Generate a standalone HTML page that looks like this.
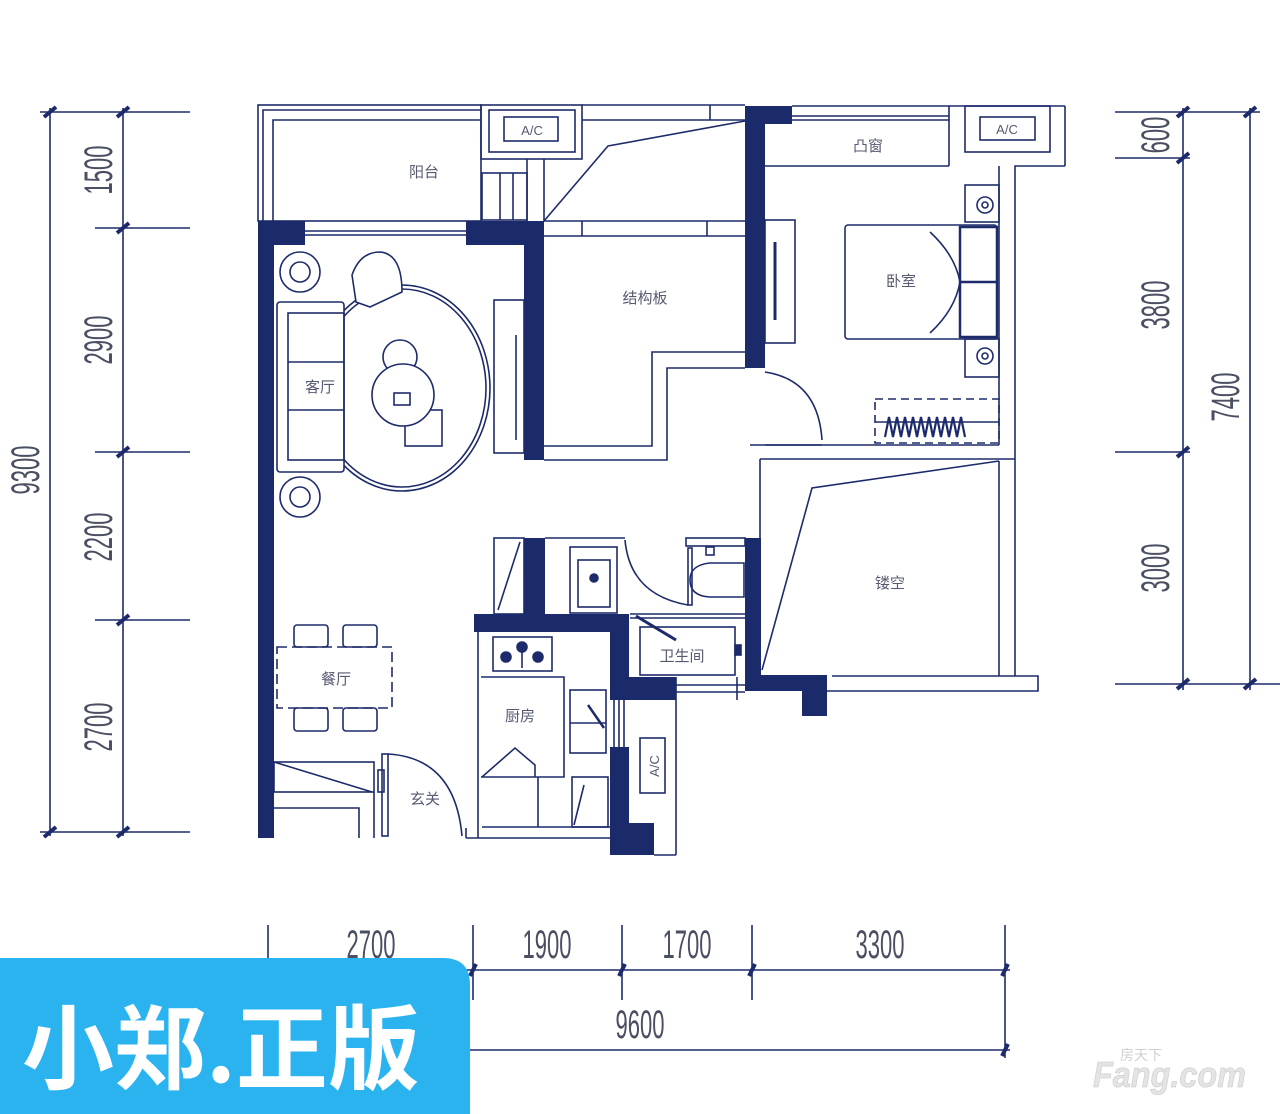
<!DOCTYPE html>
<html><head><meta charset="utf-8"><style>
html,body{margin:0;padding:0;background:#fff;width:1280px;height:1114px;overflow:hidden}
svg{display:block}
.t{font-family:"Liberation Sans","Noto Sans CJK SC",sans-serif;font-size:15px;fill:#555a70}
.d{font-family:"Liberation Sans",sans-serif;font-size:40px;fill:#4a4f62}
</style></head><body>
<svg width="1280" height="1114" viewBox="0 0 1280 1114" xmlns="http://www.w3.org/2000/svg">
<g stroke="#1e2b6b" stroke-width="1.6" fill="none">
<line x1="50" y1="108" x2="50" y2="836"/><line x1="123" y1="108" x2="123" y2="836"/>
<line x1="40" y1="112" x2="190" y2="112"/><line x1="95" y1="228" x2="190" y2="228"/>
<line x1="95" y1="452" x2="190" y2="452"/><line x1="95" y1="620" x2="190" y2="620"/>
<line x1="40" y1="832" x2="190" y2="832"/>
<line x1="1183" y1="108" x2="1183" y2="690"/><line x1="1250" y1="108" x2="1250" y2="690"/>
<line x1="1115" y1="112" x2="1260" y2="112"/><line x1="1115" y1="158" x2="1190" y2="158"/>
<line x1="1115" y1="452" x2="1190" y2="452"/><line x1="1115" y1="684" x2="1280" y2="684"/>
<line x1="268" y1="925" x2="268" y2="1000"/><line x1="473" y1="925" x2="473" y2="1000"/>
<line x1="622" y1="925" x2="622" y2="1000"/><line x1="752" y1="925" x2="752" y2="1000"/>
<line x1="1005" y1="925" x2="1005" y2="1058"/>
<line x1="265" y1="970" x2="1010" y2="970"/><line x1="465" y1="1050" x2="1010" y2="1050"/>
</g>
<g stroke="#1e2b6b" stroke-width="4">
<line x1="44" y1="117" x2="56" y2="107"/><line x1="117" y1="117" x2="129" y2="107"/>
<line x1="117" y1="233" x2="129" y2="223"/><line x1="117" y1="457" x2="129" y2="447"/>
<line x1="117" y1="625" x2="129" y2="615"/><line x1="44" y1="837" x2="56" y2="827"/><line x1="117" y1="837" x2="129" y2="827"/>
<line x1="1177" y1="117" x2="1189" y2="107"/><line x1="1244" y1="117" x2="1256" y2="107"/>
<line x1="1177" y1="163" x2="1189" y2="153"/><line x1="1177" y1="457" x2="1189" y2="447"/>
<line x1="1177" y1="689" x2="1189" y2="679"/><line x1="1244" y1="689" x2="1256" y2="679"/>
<line x1="470" y1="976" x2="476" y2="964"/><line x1="619" y1="976" x2="625" y2="964"/>
<line x1="749" y1="976" x2="755" y2="964"/><line x1="1002" y1="976" x2="1008" y2="964"/>
<line x1="1002" y1="1056" x2="1008" y2="1044"/>
</g>
<g class="d">
<text transform="translate(112,170) rotate(-90) scale(0.55,1)" text-anchor="middle">1500</text>
<text transform="translate(112,340) rotate(-90) scale(0.55,1)" text-anchor="middle">2900</text>
<text transform="translate(112,537) rotate(-90) scale(0.55,1)" text-anchor="middle">2200</text>
<text transform="translate(112,727) rotate(-90) scale(0.55,1)" text-anchor="middle">2700</text>
<text transform="translate(39,470) rotate(-90) scale(0.55,1)" text-anchor="middle">9300</text>
<text transform="translate(1169,135) rotate(-90) scale(0.55,1)" text-anchor="middle">600</text>
<text transform="translate(1169,305) rotate(-90) scale(0.55,1)" text-anchor="middle">3800</text>
<text transform="translate(1239,397) rotate(-90) scale(0.55,1)" text-anchor="middle">7400</text>
<text transform="translate(1169,568) rotate(-90) scale(0.55,1)" text-anchor="middle">3000</text>
<text transform="translate(371,958) scale(0.55,1)" text-anchor="middle">2700</text>
<text transform="translate(547,958) scale(0.55,1)" text-anchor="middle">1900</text>
<text transform="translate(687,958) scale(0.55,1)" text-anchor="middle">1700</text>
<text transform="translate(880,958) scale(0.55,1)" text-anchor="middle">3300</text>
<text transform="translate(640,1038) scale(0.55,1)" text-anchor="middle">9600</text>
</g>
<g stroke="#1e2b6b" stroke-width="1.6" fill="none">
<rect x="258" y="105" width="223" height="116"/>
<polyline points="263,221 263,110 481,110"/>
<polyline points="273,221 273,120 481,120"/>
<rect x="481" y="105" width="101" height="54"/>
<rect x="489" y="110" width="86" height="42"/>
<rect x="504" y="117" width="54" height="24"/>
<line x1="527" y1="159" x2="527" y2="221"/><line x1="544" y1="159" x2="544" y2="221"/>
<rect x="482" y="173" width="45" height="47"/><line x1="500" y1="173" x2="500" y2="220"/><line x1="513" y1="173" x2="513" y2="220"/>
<line x1="582" y1="105" x2="745" y2="105"/><line x1="582" y1="120" x2="745" y2="120"/><line x1="710" y1="105" x2="710" y2="120"/>
<polyline points="544,221 608,146 745,121"/>
<line x1="544" y1="221" x2="745" y2="221"/><line x1="544" y1="236" x2="745" y2="236"/>
<line x1="582" y1="221" x2="582" y2="236"/><line x1="707" y1="221" x2="707" y2="236"/>
<polyline points="544,460 667,460 667,368 745,368"/>
<polyline points="544,446 652,446 652,352 745,352"/>
<line x1="305" y1="231" x2="466" y2="231"/><line x1="305" y1="235" x2="466" y2="235"/>
<circle cx="300" cy="272" r="20"/><circle cx="300" cy="272" r="10"/>
<circle cx="300" cy="497" r="20"/><circle cx="300" cy="497" r="10"/>
<ellipse cx="402" cy="388" rx="88" ry="103"/><ellipse cx="402" cy="388" rx="84" ry="99"/>
<rect x="277" y="302" width="67" height="170" rx="3" fill="#fff"/>
<rect x="288" y="313" width="56" height="147"/>
<line x1="288" y1="362" x2="344" y2="362"/><line x1="288" y1="410" x2="344" y2="410"/>
<path d="M356,302 L352,275 Q360,252 380,252 Q402,254 402,292 L370,307 Z" fill="#fff"/>
<circle cx="400" cy="357" r="17"/>
<rect x="405" y="410" width="37" height="36"/>
<circle cx="403" cy="395" r="31" fill="#fff"/>
<rect x="394" y="393" width="16" height="12"/>
<rect x="494" y="300" width="30" height="153"/><line x1="516" y1="335" x2="516" y2="440"/>
<rect x="765" y="220" width="30" height="123"/><line x1="775" y1="242" x2="775" y2="320" stroke-width="3"/>
<path d="M765,372 Q818,380 822,440"/>
<line x1="765" y1="445" x2="822" y2="445"/>
<line x1="792" y1="106" x2="1065" y2="106"/><line x1="1065" y1="106" x2="1065" y2="166"/>
<line x1="792" y1="116" x2="949" y2="116"/><line x1="792" y1="120" x2="949" y2="120"/>
<line x1="765" y1="166" x2="949" y2="166"/><line x1="949" y1="106" x2="949" y2="166"/>
<rect x="965" y="106" width="85" height="46"/>
<rect x="980" y="117" width="55" height="23"/>
<polyline points="1065,166 1015,166 1015,676"/>
<line x1="999" y1="166" x2="999" y2="445"/>
<line x1="750" y1="445" x2="999" y2="445"/>
<line x1="760" y1="459" x2="1015" y2="459"/>
<rect x="965" y="185" width="34" height="37"/><circle cx="985" cy="205" r="8"/><circle cx="985" cy="205" r="3"/>
<rect x="965" y="339" width="34" height="38"/><circle cx="985" cy="356" r="8"/><circle cx="985" cy="356" r="3"/>
<rect x="845" y="225" width="152" height="114" rx="3"/>
<rect x="960" y="227" width="37" height="110" stroke-width="2.5"/><line x1="960" y1="282" x2="997" y2="282" stroke-width="2.5"/>
<path d="M930,232 Q955,255 960,282 Q955,310 930,333"/>
<rect x="875" y="399" width="124" height="44" stroke-dasharray="8 5"/>
<path d="M885,437 l4,-20 l4,20 l4,-20 l4,20 l4,-20 l4,20 l4,-20 l4,20 l4,-20 l4,20 l4,-20 l4,20 l4,-20 l4,20 l4,-20 l4,20 l4,-20 l4,20 l4,-20 l4,20" stroke-width="2.2"/>
<line x1="875" y1="422" x2="999" y2="422"/>
<line x1="760" y1="459" x2="760" y2="676"/>
<polyline points="762,670 812,488 999,461"/>
<line x1="999" y1="461" x2="999" y2="676"/>
<line x1="832" y1="676" x2="1015" y2="676"/>
<polyline points="827,691 1038,691 1038,676 1015,676"/>
<rect x="494" y="538" width="30" height="76"/><line x1="498" y1="610" x2="520" y2="542"/>
<rect x="570" y="547" width="47" height="66"/><rect x="578" y="560" width="32" height="47"/><circle cx="594" cy="578" r="4" fill="#1e2b6b"/>
<line x1="545" y1="538" x2="625" y2="538"/>
<path d="M625,540 Q630,595 688,605"/>
<rect x="686" y="538" width="59" height="8"/>
<rect x="688" y="548" width="4" height="57"/>
<path d="M744,563 L710,563 Q690,565 690,580 Q690,596 710,597 L744,597 Z"/>
<rect x="706" y="547" width="8" height="8"/>
<rect x="640" y="627" width="95" height="48"/>
<line x1="630" y1="614" x2="745" y2="614"/><line x1="630" y1="618" x2="745" y2="618"/>
<line x1="636" y1="616" x2="676" y2="640" stroke-width="3"/>
<rect x="735" y="645" width="6" height="10" fill="#1e2b6b"/>
<line x1="676" y1="685" x2="745" y2="685"/><line x1="676" y1="692" x2="745" y2="692"/>
<line x1="676" y1="677" x2="676" y2="700"/><line x1="737" y1="677" x2="737" y2="700"/>
<rect x="493" y="637" width="59" height="34"/>
<circle cx="506" cy="657" r="5" fill="#1e2b6b"/><circle cx="522" cy="647" r="5" fill="#1e2b6b"/><circle cx="538" cy="657" r="5" fill="#1e2b6b"/>
<line x1="522" y1="647" x2="522" y2="668"/>
<line x1="478" y1="632" x2="478" y2="838"/>
<polyline points="481,677 564,677 564,777 481,777"/>
<rect x="570" y="690" width="36" height="63"/><line x1="570" y1="723" x2="606" y2="723"/>
<line x1="588" y1="705" x2="604" y2="728" stroke-width="2.5"/>
<polyline points="482,777 515,748 535,765 535,777"/>
<line x1="482" y1="827" x2="610" y2="827"/><line x1="538" y1="777" x2="538" y2="827"/>
<line x1="466" y1="838" x2="610" y2="838"/><line x1="466" y1="828" x2="466" y2="838"/>
<rect x="572" y="777" width="36" height="50"/><line x1="574" y1="825" x2="584" y2="785"/>
<line x1="614" y1="700" x2="614" y2="747"/><line x1="619" y1="700" x2="619" y2="747"/><line x1="624" y1="700" x2="624" y2="747"/>
<rect x="640" y="738" width="25" height="55"/>
<line x1="676" y1="700" x2="676" y2="855"/><line x1="654" y1="855" x2="676" y2="855"/>
<rect x="277" y="647" width="115" height="61" stroke-dasharray="10 5"/>
<rect x="294" y="625" width="34" height="22" rx="3"/><rect x="343" y="625" width="34" height="22" rx="3"/>
<rect x="294" y="708" width="34" height="23" rx="3"/><rect x="343" y="708" width="34" height="23" rx="3"/>
<rect x="274" y="762" width="100" height="30"/><line x1="274" y1="762" x2="372" y2="792"/>
<polyline points="274,808 359,808 359,838"/>
<line x1="374" y1="792" x2="374" y2="838"/>
<rect x="382" y="754" width="6" height="82"/><rect x="378" y="770" width="6" height="22"/>
<path d="M388,754 Q455,758 462,836"/>
</g>
<g fill="#1b2a6b">
<rect x="258" y="221" width="16" height="617"/>
<rect x="258" y="221" width="47" height="24"/>
<rect x="466" y="221" width="78" height="24"/>
<rect x="524" y="221" width="20" height="239"/>
<rect x="745" y="106" width="20" height="262"/>
<rect x="745" y="106" width="47" height="18"/>
<rect x="524" y="538" width="21" height="76"/>
<rect x="474" y="614" width="155" height="18"/>
<rect x="610" y="614" width="19" height="86"/>
<rect x="610" y="677" width="66" height="23"/>
<rect x="610" y="747" width="19" height="108"/>
<rect x="610" y="823" width="44" height="32"/>
<rect x="745" y="538" width="16" height="153"/>
<rect x="745" y="675" width="82" height="16"/>
<rect x="802" y="691" width="25" height="25"/>
</g>
<g class="t" text-anchor="middle">
<text x="424" y="177">阳台</text>
<text x="532" y="135" font-size="13">A/C</text>
<text x="1007" y="134" font-size="13">A/C</text>
<text x="868" y="151">凸窗</text>
<text x="645" y="303">结构板</text>
<text x="901" y="286">卧室</text>
<text x="320" y="392">客厅</text>
<text x="890" y="588">镂空</text>
<text x="682" y="661">卫生间</text>
<text x="520" y="721">厨房</text>
<text x="336" y="684">餐厅</text>
<text x="425" y="804">玄关</text>
<text transform="translate(659,766) rotate(-90)" font-size="13">A/C</text>
</g>
<path d="M0,958 L443,958 Q470,958 470,985 L470,1114 L0,1114 Z" fill="#2bb3f0"/>
<text x="22" y="1082" font-family="'Noto Sans CJK SC',sans-serif" font-weight="bold" font-size="92" fill="#fff">小郑.正版</text>
<text transform="translate(1093,1087) scale(0.9,1)" font-family="'Liberation Sans',sans-serif" font-weight="bold" font-style="italic" font-size="36" fill="#e4e4e4" stroke="#c8c8c8" stroke-width="0.6">Fang.com</text>
<text x="1120" y="1060" font-family="'Noto Sans CJK SC',sans-serif" font-size="14" fill="#d0d0d0">房天下</text>
</svg>
</body></html>
